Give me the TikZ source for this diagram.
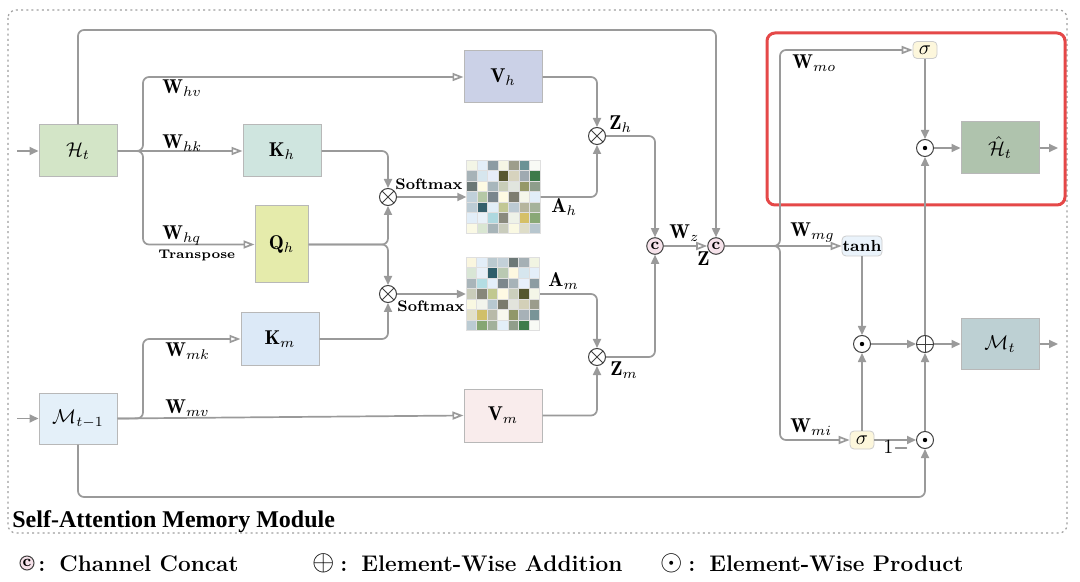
\documentclass[tikz,border=0pt]{standalone}
\usepackage{fontspec}
\newfontfamily\titlefont{Liberation Serif}
\usetikzlibrary{arrows.meta,calc}
\definecolor{ln}{HTML}{9A9A9A}
\definecolor{boxline}{HTML}{B8B8B8}
\definecolor{cHt}{HTML}{D3E5C7}
\definecolor{cKh}{HTML}{CFE5DF}
\definecolor{cQh}{HTML}{E5EBAB}
\definecolor{cVh}{HTML}{CBD1E7}
\definecolor{cKm}{HTML}{DCE9F7}
\definecolor{cMp}{HTML}{E4F0F9}
\definecolor{cVm}{HTML}{F9ECEC}
\definecolor{cHh}{HTML}{AFC3AD}
\definecolor{cMt}{HTML}{BDD0D3}
\definecolor{csig}{HTML}{FDF7DC}
\definecolor{ctanh}{HTML}{EAF3FB}
\definecolor{catfill}{HTML}{F6E2EA}
\definecolor{redbox}{HTML}{E54848}
\newcommand\legfont{\fontsize{11.3}{14}\selectfont\bfseries}
\newcommand\legsym{\fontsize{13.5}{15}\selectfont}
\tikzset{
  conn/.style={draw=ln, line width=0.85pt, rounded corners=3pt},
  arr/.style={conn, -{Triangle[length=4.5pt,width=4pt]}, ln},
  warr/.style={conn, -{Triangle[open,length=5.5pt,width=4pt]}},
  box/.style={draw=boxline, line width=0.5pt, minimum width=39pt, minimum height=26pt, inner sep=0pt},
  op/.style={circle, draw=black!75, line width=0.5pt, minimum size=8.5pt, inner sep=0pt, fill=white},
  otim/.style={op, path picture={\draw[black!75,line width=0.5pt] (path picture bounding box.north west) -- (path picture bounding box.south east) (path picture bounding box.south west) -- (path picture bounding box.north east);}},
  oplu/.style={op, path picture={\draw[black!75,line width=0.5pt] (path picture bounding box.north) -- (path picture bounding box.south) (path picture bounding box.west) -- (path picture bounding box.east);}},
  odt/.style={op, path picture={\fill[black] (path picture bounding box.center) circle (1.1pt);}},
  cat/.style={circle, draw=black!75, fill=catfill, line width=0.5pt, minimum size=8.3pt, inner sep=0pt, font=\bfseries\footnotesize},
  gate/.style={rounded corners=2pt, draw=gray!40, line width=0.4pt, inner sep=0pt},
  lab/.style={anchor=base west, inner sep=0pt},
  heat/.style={minimum width=36.75pt, minimum height=36.75pt, inner sep=0pt},
}
\begin{document}
\begin{tikzpicture}[x=0.5pt,y=-0.5pt]
\useasboundingbox[fill=white] (0,0) rectangle (1080,582);
% frame
\draw[gray!75, line width=0.6pt, dash pattern=on 1pt off 1.6pt, rounded corners=4pt] (8,10) rectangle (1067,533);
\draw[redbox, line width=1.5pt, rounded corners=4pt] (767,33) rectangle (1065,205);

% boxes
\node[box, fill=cHt] (Ht) at (78,151) {$\mathcal{H}_t$};
\node[box, fill=cKh] (Kh) at (282,151) {$\mathbf{K}_h$};
\node[box, fill=cQh, minimum width=26.5pt, minimum height=38.5pt] (Qh) at (281.5,244.5) {$\mathbf{Q}_h$};
\node[box, fill=cVh] (Vh) at (503,77) {$\mathbf{V}_h$};
\node[box, fill=cKm] (Km) at (280,339) {$\mathbf{K}_m$};
\node[box, fill=cMp, minimum height=25.5pt] (Mp) at (78,418.5) {$\mathcal{M}_{t-1}$};
\node[box, fill=cVm, minimum height=26.5pt] (Vm) at (503,415.5) {$\mathbf{V}_m$};
\node[box, fill=cHh] (Hh) at (1000,148) {$\hat{\mathcal{H}}_t$};
\node[box, fill=cMt, minimum height=25.5pt] (Mt) at (1000,344) {$\mathcal{M}_t$};

% heatmaps
\node[heat] (Ah) at (503.5,197) {};
\foreach \hc [count=\i from 0] in {F3F5E6,E3EEF8,8C9BA3,F5F5E5,9D9D8B,6B9295,F8FAF5,
A7B3B8,D6E6EE,E7EDF8,575630,D7D3BE,9FAAB1,3D7A4A,
6B7775,FDFAE3,A8B6BC,C8CDB8,E1E5DE,959868,8E9E8B,
C0D0DA,B5C8A6,7A868D,FEFAE3,7D7C70,F5F6EA,E1EEF8,
BCCCD5,35606C,E2EEF7,C2C794,BCCAD3,B6B59D,A5B39A,
E2EEF8,E8F1F8,AED8DF,8A8A7E,EEF2E8,D5C067,89A876,
FAF9E5,D9E6D2,A7B4B8,C9CCBC,FAF9E3,DEDDC8,B7C6CE}{
  \pgfmathtruncatemacro\rr{floor(\i/7)}
  \pgfmathtruncatemacro\cc{mod(\i,7)}
  \definecolor{cellc}{HTML}{\hc}
  \filldraw[fill=cellc, draw=gray!25, line width=0.3pt] ($(Ah.north west)+(\cc*10.5,\rr*10.5)$) rectangle ++(10.5,10.5);
}
\node[heat] (Am) at (503,294) {};
\foreach \hc [count=\i from 0] in {FAF6DF,E3EEF8,BBCAD0,C3D0D8,6C7877,A5B0B5,F1F4E2,
D9E6D6,E8F0F8,2F5E6A,BAC9B2,FDF8E0,D6E6EE,E4EFF9,
A9B5BA,B4DDE3,E4EFF9,7C878C,A7B3B8,E8F0FB,8C9CA2,
C9CCBA,87877A,C1C88F,FEFAE3,CBCFBD,545630,F4F6E8,
F9F8E2,F2F4EC,B7C8D0,7A7A6C,E2E4DC,D3D0B8,9B9C8C,
E2E0C8,D0BF69,B8BAA8,F7F8EE,919769,A7B1B7,789497,
BBCBD3,85A672,A2B19B,E3EFF8,909E8B,3F7B4B,F8FAF5}{
  \pgfmathtruncatemacro\rr{floor(\i/7)}
  \pgfmathtruncatemacro\cc{mod(\i,7)}
  \definecolor{cellc}{HTML}{\hc}
  \filldraw[fill=cellc, draw=gray!25, line width=0.3pt] ($(Am.north west)+(\cc*10.5,\rr*10.5)$) rectangle ++(10.5,10.5);
}

% operators
\node[otim] (ot1) at (388,197) {};
\node[otim] (ot2) at (388,294) {};
\node[otim] (oZh) at (597,136) {};
\node[otim] (oZm) at (597,357) {};
\node[cat] (C1) at (655,246) {c};
\node[cat] (C2) at (716,246) {c};
\node[gate, fill=csig, minimum width=12pt, minimum height=8.5pt] (sigo) at (925,50) {$\sigma$};
\node[gate, fill=ctanh, minimum width=20pt, minimum height=10pt, font=\footnotesize\bfseries] (tanh) at (862,246) {tanh};
\node[gate, fill=csig, minimum width=12pt, minimum height=9pt] (sigi) at (862,440) {$\sigma$};
\node[odt] (od1) at (862,344) {};
\node[oplu] (opl) at (925,344) {};
\node[odt] (od2) at (925,440) {};
\node[odt] (odh) at (925,148) {};

% helper coordinates
\coordinate (inH) at (17,151);
\coordinate (inM) at (17,418.5);
\coordinate (bH) at (143,151);
\coordinate (bM) at (143,418.5);
\coordinate (bC) at (780,246);
\coordinate (ytop) at (0,30);
\coordinate (ybot) at (0,497);
\coordinate (outH) at (1058,148);
\coordinate (outM) at (1058,344);

% left inputs
\draw[arr] (inH) -- (Ht);
\draw[arr] (inM) -- (Mp);
% H_t bypass to concat
\draw[arr] (Ht.north) |- (C2.north |- ytop) -- (C2.north);
% H_t projections
\draw[warr] (Ht.east) -- (Kh.west);
\draw[warr] (Ht.east) -- (bH) |- (Vh.west);
\draw[warr] (Ht.east) -- (bH) |- (Qh.west);
% M_{t-1} projections
\draw[warr] (Mp.east) -- (bM) |- (Km.west);
\draw[warr] (Mp.east) -- (Vm.west);
\draw[arr] (Mp.south) |- (od2.south |- ybot) -- (od2.south);
% attention
\draw[arr] (Kh.east) -| (ot1.north);
\draw[arr] (Qh.east) -| (ot1.south);
\draw[arr] (Qh.east) -| (ot2.north);
\draw[arr] (Km.east) -| (ot2.south);
\draw[arr] (ot1) -- (Ah.west);
\draw[arr] (ot2) -- (Am.west);
\draw[arr] (Vh.east) -| (oZh.north);
\draw[arr] (Ah.east) -| (oZh.south);
\draw[arr] (Am.east) -| (oZm.north);
\draw[arr] (Vm.east) -| (oZm.south);
\draw[arr] (oZh.east) -| (C1.north);
\draw[arr] (oZm.east) -| (C1.south);
\draw[warr] (C1) -- (C2);
% gates
\draw[warr] (C2.east) -- (bC) |- (sigo.west);
\draw[warr] (C2.east) -- (tanh.west);
\draw[warr] (C2.east) -- (bC) |- (sigi.west);
\draw[arr] (tanh) -- (od1);
\draw[arr] (sigi) -- (od1);
\draw[arr] (od1) -- (opl);
\draw[arr] (sigi) -- (od2);
\draw[arr] (od2) -- (opl);
\draw[arr] (opl) -- (Mt);
\draw[arr] (Mt) -- (outM);
\draw[arr] (sigo) -- (odh);
\draw[arr] (opl) -- (odh);
\draw[arr] (odh) -- (Hh);
\draw[arr] (Hh) -- (outH);

% labels
\node[lab] (lWhv) at (162,94) {$\mathbf{W}_{hv}$};
\node[lab] (lWhk) at (162,149) {$\mathbf{W}_{hk}$};
\node[lab] (lWhq) at (162,240) {$\mathbf{W}_{hq}$};
\node[lab, font=\fontsize{6.3}{7}\selectfont\bfseries] (lTr) at (158,259) {Transpose};
\node[lab] (lWmk) at (165,357) {$\mathbf{W}_{mk}$};
\node[lab] (lWmv) at (165,413) {$\mathbf{W}_{mv}$};
\node[lab, font=\fontsize{7.6}{9}\selectfont\bfseries] (lSm1) at (395,190) {Softmax};
\node[lab, font=\fontsize{7.6}{9}\selectfont\bfseries] (lSm2) at (397,312) {Softmax};
\node[lab] (lAh) at (551,213) {$\mathbf{A}_h$};
\node[lab] (lAm) at (548,287) {$\mathbf{A}_m$};
\node[lab] (lZh) at (609,130) {$\mathbf{Z}_h$};
\node[lab] (lZm) at (610,375) {$\mathbf{Z}_m$};
\node[lab] (lWz) at (669,239) {$\mathbf{W}_z$};
\node[lab] (lZ) at (697,266) {$\mathbf{Z}$};
\node[lab] (lWmo) at (792,69) {$\mathbf{W}_{mo}$};
\node[lab] (lWmg) at (790,237) {$\mathbf{W}_{mg}$};
\node[lab] (lWmi) at (790,432) {$\mathbf{W}_{mi}$};
\node[lab] (l1m) at (883,453) {$1-$};

% title and legend
\node[lab, font=\titlefont\fontsize{12}{14}\selectfont\bfseries] (title) at (12,527) {Self-Attention Memory Module};
\node[cat, minimum size=7pt] (lgc) at (27,563) {c};
\node[lab, font=\legfont] (lg1) at (38,571) {:\hspace{7pt}Channel Concat};
\node[font=\legsym, inner sep=0pt] (lgp) at (324,563) {$\oplus$};
\node[lab, font=\legfont] (lg2) at (340,571) {:\hspace{7pt}Element-Wise Addition};
\node[font=\legsym, inner sep=0pt] (lgd) at (672,563) {$\odot$};
\node[lab, font=\legfont] (lg3) at (688,571) {:\hspace{7pt}Element-Wise Product};
\end{tikzpicture}
\end{document}
